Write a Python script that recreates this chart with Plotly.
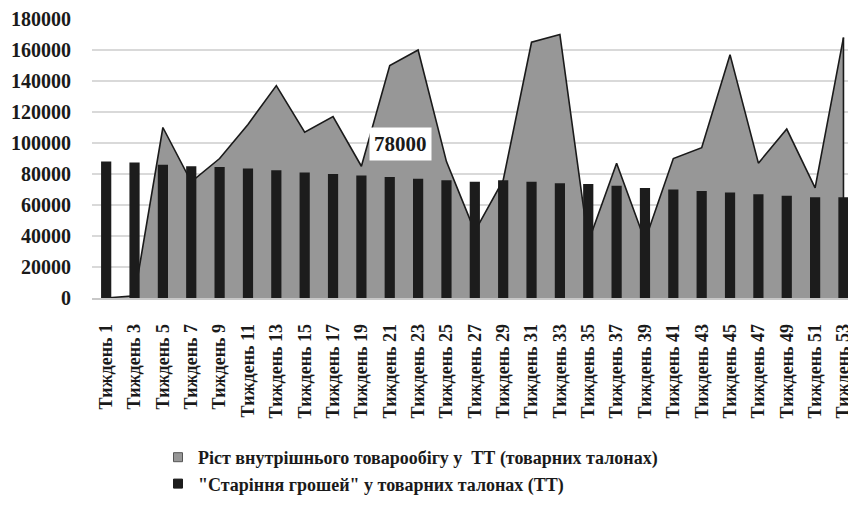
import plotly.graph_objects as go

weeks = [1, 3, 5, 7, 9, 11, 13, 15, 17, 19, 21, 23, 25, 27, 29, 31, 33, 35, 37, 39, 41, 43, 45, 47, 49, 51, 53]
week_labels = [f"Тиждень {w}" for w in weeks]

growth = [0, 1500, 110000, 75000, 90000, 112000, 137000, 107000, 117000, 85000,
          150000, 160000, 88000, 43000, 76000, 165000, 170000, 36000, 87000, 37000,
          90000, 97000, 157000, 87000, 109000, 71000, 168000]

aging = [88000, 87500, 86000, 85000, 84500, 83500, 82500, 81000, 80000, 79000,
         78000, 77000, 76000, 75000, 76000, 75000, 74000, 73500, 72500, 71000,
         70000, 69000, 68000, 67000, 66000, 65000, 65000]

y_ticks = [0, 20000, 40000, 60000, 80000, 100000, 120000, 140000, 160000, 180000]

name_growth = "Ріст внутрішнього товарообігу у  ТТ (товарних талонах)"
name_aging = "\"Старіння грошей\" у товарних талонах (ТТ)"

label_idx = 10  # week 21 data label

FONT = "Liberation Serif, Times New Roman, serif"
AREA = "#979797"
BAR = "#1c1c1c"
LINE = "#1a1a1a"

fig = go.Figure()

# area (growth)
fig.add_trace(go.Scatter(
    x=week_labels, y=growth, mode="lines", fill="tozeroy",
    fillcolor=AREA, line=dict(color=LINE, width=1.6),
    showlegend=False, hoverinfo="skip"))
# closing right edge of the area
fig.add_trace(go.Scatter(
    x=[week_labels[-1], week_labels[-1]], y=[0, growth[-1]], mode="lines",
    line=dict(color=LINE, width=1.6), showlegend=False, hoverinfo="skip"))

# bars on overlay axis so they draw above the area
fig.add_trace(go.Bar(
    x=week_labels, y=aging, marker=dict(color=BAR, line=dict(width=0)),
    yaxis="y2", showlegend=False, name=name_aging))

# legend entries
fig.add_trace(go.Scatter(
    x=[None], y=[None], mode="markers", name=name_growth,
    marker=dict(symbol="square", size=9, color=AREA, line=dict(color="#555555", width=1))))
fig.add_trace(go.Scatter(
    x=[None], y=[None], mode="markers", name=name_aging,
    marker=dict(symbol="square", size=9, color=BAR, line=dict(color=BAR, width=1))))

fig.add_annotation(
    x=week_labels[label_idx], y=aging[label_idx], yref="y2",
    text=f"{aging[label_idx]}", showarrow=False,
    xshift=11, yshift=16, yanchor="bottom",
    font=dict(family=FONT, size=21, color="#1a1a1a", weight="bold"),
    bgcolor="white", borderpad=4)

fig.update_layout(
    width=848, height=520,
    margin=dict(l=92, r=0, t=19, b=222, autoexpand=False),
    paper_bgcolor="white", plot_bgcolor="white",
    bargap=0.64,
    font=dict(family=FONT, color="#1a1a1a", weight="bold"),
    xaxis=dict(
        type="category", range=[-0.5, 26.16], automargin=False,
        tickmode="array", tickvals=week_labels, ticktext=week_labels,
        tickangle=-90, tickfont=dict(family=FONT, size=18, weight="bold", color="#1a1a1a"),
        showgrid=False, showline=True, linecolor="#c8c8c8", linewidth=1.5,
        ticks="", ticklabelstandoff=17, zeroline=False),
    yaxis=dict(
        range=[0, 180000], tickvals=y_ticks, ticktext=[str(v) for v in y_ticks],
        automargin=False,
        tickfont=dict(family=FONT, size=20, weight="bold", color="#1a1a1a"),
        showgrid=True, gridcolor="#d9d9d9", gridwidth=1.5,
        zeroline=False, showline=False, ticks="", ticklabelstandoff=20),
    yaxis2=dict(range=[0, 180000], overlaying="y", visible=False, automargin=False),
    legend=dict(
        orientation="v", xref="container", yref="container",
        x=158 / 848, y=1 - 439 / 520, xanchor="left", yanchor="top",
        font=dict(family=FONT, size=18, weight="bold", color="#1a1a1a"),
        bgcolor="rgba(0,0,0,0)", itemwidth=30, tracegroupgap=0),
)

fig.write_html("out.html", config={"displayModeBar": False},
               post_script="document.body.style.margin='0';document.body.style.overflow='hidden';")
